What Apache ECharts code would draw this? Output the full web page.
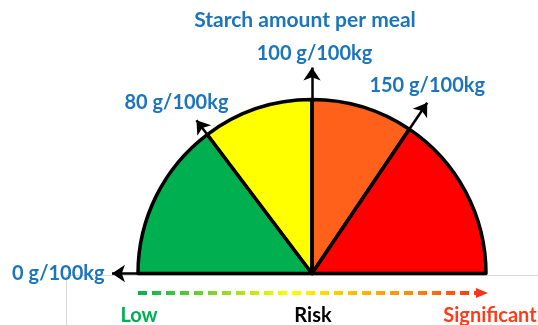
<!DOCTYPE html>
<html>
<head>
<meta charset="utf-8">
<script src="https://cdn.jsdelivr.net/npm/echarts@6/dist/echarts.min.js"></script>
<style>
  html, body { margin: 0; padding: 0; background: #fff; }
  #chart { width: 538px; height: 325px; }
</style>
</head>
<body>
<div id="chart"></div>
<script>
// ---- data ----
const chartTitle = 'Starch amount per meal';
const zoneNames = ['Low', 'Moderate', 'High', 'Significant'];
const zoneSpans = [53, 37, 34, 56];            // degrees of the half circle covered by each zone
const thresholdLabels = ['0 g/100kg', '80 g/100kg', '100 g/100kg', '150 g/100kg'];
const thresholdArrowLengths = [200, 192, 206, 206]; // arrow length from the centre to the tip
const riskLabels = ['Low', 'Risk', 'Significant'];

// ---- styles ----
const zoneColors = ['#00B050', '#FFFF00', '#FF611A', '#FF0000'];
const blue = '#1C75BC';
const FONT = 'Lato';
const CX = 312, CY = 273.5, R = 174, AR = 210;

// threshold angles = left end of each zone
const thresholdAngles = [];
let acc = 180;
for (let i = 0; i < zoneSpans.length; i++) { thresholdAngles.push(acc); acc -= zoneSpans[i]; }

const ARROW = [11, 13];
const toXY = (len, deg) => [len * Math.cos(deg * Math.PI / 180), len * Math.sin(deg * Math.PI / 180)];

const arrowData = thresholdAngles.map((a, i) => ({
  coords: [[0, 0], toXY(thresholdArrowLengths[i], a)]
}));

const labelLayout = [
  { position: 'left', distance: 7, offset: [0, 0] },
  { position: 'top', distance: 7, offset: [-20, 0] },
  { position: 'top', distance: 3, offset: [2.5, 0] },
  { position: 'top', distance: 7, offset: [0, 0] }
];
const labelData = thresholdAngles.map((a, i) => ({
  name: thresholdLabels[i],
  value: toXY(thresholdArrowLengths[i], a),
  label: labelLayout[i]
}));

const riskColors = ['#00B050', '#000000', '#FF3B1C'];
const riskCenters = [CX - R + 1, CX + 1, CX + R + 4];

const option = {
  animation: false,
  backgroundColor: '#fff',
  title: [
    {
      text: chartTitle, left: 305, top: 10, textAlign: 'center', padding: 0,
      textStyle: { color: blue, fontFamily: FONT, fontWeight: 'bold', fontSize: 21 }
    }
  ].concat(riskLabels.map((t, i) => ({
    text: t, left: riskCenters[i], top: 306, padding: 0, textAlign: 'center',
    textStyle: { color: riskColors[i], fontFamily: FONT, fontWeight: 'bold', fontSize: 20 }
  }))),
  grid: { left: CX - AR, top: CY - AR, width: 2 * AR, height: AR, containLabel: false },
  xAxis: { type: 'value', min: -AR, max: AR, show: false },
  yAxis: { type: 'value', min: 0, max: AR, show: false },
  graphic: [
    { type: 'line', z: 0, shape: { x1: 66.5, y1: 275.5, x2: 538, y2: 275.5 }, style: { stroke: '#d9d9d9', lineWidth: 1 } },
    { type: 'line', z: 0, shape: { x1: 66.5, y1: 275.5, x2: 66.5, y2: 325 }, style: { stroke: '#d9d9d9', lineWidth: 1 } },
    {
      type: 'line', z: 5, shape: { x1: CX - R, y1: 293, x2: CX + R - 9, y2: 293 },
      style: {
        lineWidth: 4, lineDash: [9, 5],
        stroke: {
          type: 'linear', x: 0, y: 0, x2: 1, y2: 0,
          colorStops: [
            { offset: 0, color: '#00B050' },
            { offset: 0.25, color: '#8ED82A' },
            { offset: 0.45, color: '#FFFF00' },
            { offset: 0.6, color: '#FFC800' },
            { offset: 0.8, color: '#FF8A10' },
            { offset: 1, color: '#FF3318' }
          ]
        }
      }
    },
    {
      type: 'polygon', z: 5,
      shape: { points: [[CX + R - 10, 288], [CX + R + 2, 293], [CX + R - 10, 298]] },
      style: { fill: '#FF3318' }
    }
  ],
  series: [
    {
      type: 'pie', silent: true, z: 2,
      center: [CX, CY], radius: [0, R],
      startAngle: 180, endAngle: 0, clockwise: true,
      label: { show: false }, labelLine: { show: false },
      itemStyle: { borderColor: '#000', borderWidth: 3.5, borderJoin: 'round' },
      emphasis: { disabled: true },
      data: zoneSpans.map((v, i) => ({ name: zoneNames[i], value: v, itemStyle: { color: zoneColors[i] } }))
    },
    {
      type: 'lines', coordinateSystem: 'cartesian2d', silent: true, z: 4, clip: false,
      symbol: ['none', 'arrow'], symbolSize: ARROW,
      lineStyle: { color: '#000', width: 2.5, opacity: 1, curveness: 0 },
      data: arrowData
    },
    {
      type: 'scatter', silent: true, z: 6, clip: false,
      symbolSize: 1, itemStyle: { color: 'rgba(0,0,0,0)', opacity: 1 },
      label: {
        show: true, formatter: '{b}', color: blue, opacity: 1,
        fontFamily: FONT, fontWeight: 'bold', fontSize: 20
      },
      data: labelData
    }
  ]
};

const chart = echarts.init(document.getElementById('chart'), null, { renderer: 'canvas' });
chart.setOption(option);
</script>
</body>
</html>
